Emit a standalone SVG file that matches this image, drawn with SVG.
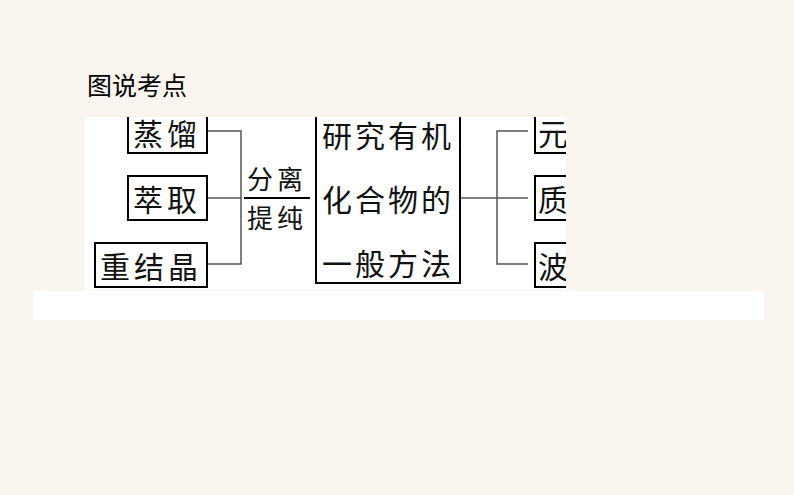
<svg xmlns="http://www.w3.org/2000/svg" width="794" height="495" viewBox="0 0 794 495">
<defs>
<style>
.bg{fill:#FAF6EF}
.box{fill:none;stroke:#000;stroke-width:2}
.ln{fill:none;stroke:#555;stroke-width:1.5}
.t{font-family:"Noto Sans CJK SC","Noto Sans CJK JP",sans-serif;font-size:30px;fill:#111;dominant-baseline:central}
.f{font-family:"Noto Sans CJK SC","Noto Sans CJK JP",sans-serif;font-size:26px;fill:#111}
.title{font-family:"Noto Sans CJK SC",sans-serif;font-size:25px;fill:#000}
</style>
<clipPath id="clip"><rect x="85" y="117" width="481" height="173"/></clipPath>
</defs>
<rect class="bg" x="0" y="0" width="794" height="495"/>
<text class="title" x="87" y="95">图说考点</text>
<rect x="33" y="291" width="731" height="29" fill="#fff"/>
<g clip-path="url(#clip)">
<rect x="85" y="117" width="481" height="173" fill="#fff"/>
<g id="connectors">
<polyline class="ln" points="207,131 241,131 241,264 207,264"/>
<line class="ln" x1="207" y1="198" x2="241" y2="198"/>
<line class="ln" x1="460" y1="198" x2="528" y2="198"/>
<polyline class="ln" points="528,131 497,131 497,264 528,264"/>
<line x1="244" y1="198" x2="310" y2="198" stroke="#000" stroke-width="2"/>
</g>
<g id="n-zhengliu"><rect class="box" x="128" y="100" width="79" height="53"/><text class="t" x="167" y="132" text-anchor="middle" letter-spacing="4">蒸馏</text></g>
<g id="n-cuiqu"><rect class="box" x="128" y="176" width="79" height="44"/><text class="t" x="167" y="198" text-anchor="middle" letter-spacing="4">萃取</text></g>
<g id="n-chongjiejing"><rect class="box" x="95" y="243" width="112" height="44"/><text class="t" x="151" y="265" text-anchor="middle" letter-spacing="4">重结晶</text></g>
<g id="n-fenli"><text class="f" x="277" y="189" text-anchor="middle" letter-spacing="4">分离</text><text class="f" x="277" y="228" text-anchor="middle" letter-spacing="4">提纯</text></g>
<g id="n-center"><rect class="box" x="316" y="100" width="144" height="183"/>
<text class="t" x="388" y="134" text-anchor="middle" letter-spacing="3">研究有机</text>
<text class="t" x="388" y="198" text-anchor="middle" letter-spacing="3">化合物的</text>
<text class="t" x="388" y="262" text-anchor="middle" letter-spacing="3">一般方法</text></g>
<g id="n-yuan"><rect class="box" x="535" y="100" width="60" height="53"/><text class="t" x="538" y="132">元</text></g>
<g id="n-zhi"><rect class="box" x="535" y="176" width="60" height="44"/><text class="t" x="538" y="198">质</text></g>
<g id="n-bo"><rect class="box" x="535" y="243" width="60" height="44"/><text class="t" x="538" y="265">波</text></g>
</g>
</svg>
